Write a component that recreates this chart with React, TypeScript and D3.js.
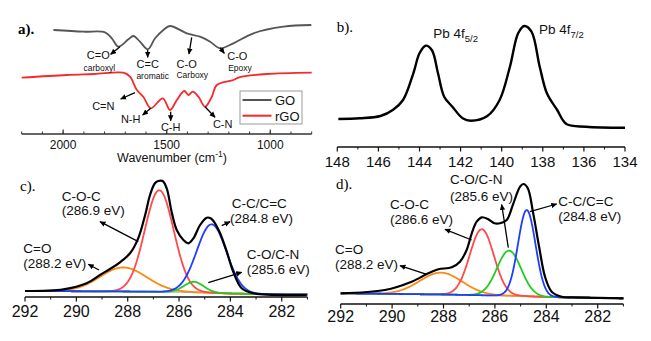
import React from "react";
import * as d3 from "d3";

// ---------- Panel a: FTIR ----------
const wnGO = [2047, 1902, 1798, 1765, 1733, 1685, 1661, 1629, 1591, 1556, 1516, 1484, 1403, 1339, 1290, 1242, 1178, 1081, 936, 802];
const transGO = [104, 102.3, 101.7, 95.7, 87.3, 94.7, 98, 92.3, 84.7, 95.7, 104, 108, 100.7, 97.3, 92.3, 85.7, 90.7, 100.7, 107.3, 109];
const wnRGO = [2200, 1983, 1850, 1709, 1677, 1644, 1613, 1577, 1519, 1484, 1451, 1415, 1395, 1374, 1347, 1315, 1282, 1258, 1178, 1150, 1017, 800];
const transRGO = [56.3, 59, 60, 61.3, 57.3, 44, 37.3, 25.7, 35.7, 24, 34, 43, 39, 42.3, 37.3, 27.3, 37.3, 49, 54, 56.7, 60, 61.3];
const ftirMajor = [2000, 1500, 1000];
const ftirMinor = d3.range(2200, 799, -100);

// ---------- Panel b: Pb 4f ----------
const beB = [147.95, 146.9, 145.9, 145.3, 144.8, 144.3, 144.0, 143.7, 143.4, 143.1, 142.8, 142.4, 141.9, 141.5, 140.7, 140.1, 139.6, 139.2, 138.9, 138.55, 138.15, 137.8, 137.3, 136.85, 135.9, 134];
const intB = [28, 28.7, 31, 37, 47, 73.7, 93.7, 101.3, 97, 73.7, 50.3, 40.3, 28.7, 26.3, 31, 47, 80.3, 113.7, 121, 115.3, 80.3, 53.7, 37, 23, 20.3, 19.3];
const pbMajor = [148, 146, 144, 142, 140, 138, 136, 134];
const pbMinor = d3.range(147, 134, -2);

// ---------- Panel c: C1s (GO) ----------
const beC = [292, 290.5, 289.6, 289.08, 288.69, 288.3, 287.91, 287.59, 287.32, 287.13, 286.94, 286.81, 286.64, 286.48, 286.29, 286.09, 285.83, 285.64, 285.44, 285.18, 284.92, 284.77, 284.6, 284.4, 284.14, 283.89, 283.56, 283.11, 281.03];
const envC = [6, 7.7, 13.7, 22, 28, 34.7, 43.7, 58.7, 82, 102, 113.7, 116, 116, 108.7, 85.3, 67, 57, 53.7, 58.7, 72, 79.3, 78.7, 73.7, 63.7, 45.3, 25.3, 8.7, 3.7, 2];
const bgBe = [292, 288, 286, 285, 284, 283, 281];
const bgC = [6, 5.5, 5, 4.4, 3.5, 3, 2.5];
const centerC = [288.17, 286.77, 285.42, 284.73];
const heightC = [24, 101.5, 10.5, 68.5];
const sigmaC = [0.91, 0.565, 0.38, 0.58];

// ---------- Panel d: C1s (rGO) ----------
const beD = [292, 290.28, 289.24, 288.59, 288.2, 287.68, 287.36, 287.1, 286.9, 286.71, 286.51, 286.26, 286.02, 285.8, 285.54, 285.28, 285.02, 284.89, 284.72, 284.51, 284.28, 284.05, 283.79, 283.4, 282.88, 281];
const envD = [10.7, 14, 22.3, 30.7, 34.7, 36.7, 42.3, 54, 70.7, 82.3, 86.7, 84.7, 80.7, 80.7, 84, 100.7, 117.3, 120, 115.7, 90.7, 57.3, 27.3, 12.3, 7.3, 6.7, 5.7];
const bgD = [10.7, 9.5, 8.5, 8, 7, 6.5, 5.7];
const centerD = [288.1, 286.51, 285.45, 284.76];
const heightD = [21.8, 66, 45.1, 86.2];
const sigmaD = [0.83, 0.47, 0.47, 0.34];

const xpsMajor = [292, 290, 288, 286, 284, 282];
const xpsMinor = [291, 289, 287, 285, 283, 281];

const compColors = ["#ff8a12", "#ff4a4a", "#22cc22", "#1f3cff"];

const SANS = '"Liberation Sans", Arial, Helvetica, sans-serif';
const SERIF = '"Liberation Serif", "Times New Roman", serif';

type Scale = d3.ScaleLinear<number, number>;

function pathOf(xs: number[], ys: number[], sx: Scale, sy: Scale) {
  const g = d3
    .line<number>()
    .x((_, i) => sx(xs[i]))
    .y((_, i) => sy(ys[i]))
    .curve(d3.curveCatmullRom.alpha(0.5));
  return g(xs) || "";
}

function Axis({ sx, y, major, minor, dir, labelDy, fontSize, x0, x1, color }: any) {
  const s = dir === "up" ? -1 : 1;
  return (
    <g>
      <line x1={x0} x2={x1} y1={y} y2={y} stroke={color} strokeWidth={1.3} />
      {minor.map((v: number) => (
        <line key={"m" + v} x1={sx(v)} x2={sx(v)} y1={y} y2={y + s * 2.5} stroke={color} strokeWidth={1} />
      ))}
      {major.map((v: number) => (
        <line key={"M" + v} x1={sx(v)} x2={sx(v)} y1={y} y2={y + s * 4.5} stroke={color} strokeWidth={1.2} />
      ))}
      {major.map((v: number) => (
        <text key={"t" + v} x={sx(v)} y={y + labelDy} textAnchor="middle" fontFamily={SANS} fontSize={fontSize} fill="#111">
          {v}
        </text>
      ))}
    </g>
  );
}

function Arrow({ a }: { a: number[] }) {
  return <line x1={a[0]} y1={a[1]} x2={a[2]} y2={a[3]} stroke="#000" strokeWidth={1.3} markerEnd="url(#ah)" />;
}

function XpsPanel({ sx, sy, be, env, bg, centers, heights, sigmas }: any) {
  const bgScale = d3.scaleLinear().domain(bgBe).range(bg);
  const grid = d3.range(292, 280.99, -0.025);
  const bgVals = grid.map((e) => bgScale(e));
  return (
    <g fill="none">
      <path d={pathOf(grid, bgVals, sx, sy)} stroke="#a9b8a9" strokeWidth={1.6} />
      {centers.map((c: number, k: number) => {
        const ys = grid.map((e, i) => bgVals[i] + heights[k] * Math.exp(-((e - c) ** 2) / (2 * sigmas[k] ** 2)));
        return <path key={k} d={pathOf(grid, ys, sx, sy)} stroke={compColors[k]} strokeWidth={1.8} />;
      })}
      <path d={pathOf(be, env, sx, sy)} stroke="#000" strokeWidth={2.2} />
    </g>
  );
}

export default function App() {
  const xA = d3.scaleLinear().domain([2200, 800]).range([21.7, 311.7]);
  const yA = d3.scaleLinear().domain([0, 120]).range([134, 14]);
  const xB = d3.scaleLinear().domain([148, 134]).range([337.3, 625]);
  const yB = d3.scaleLinear().domain([0, 130]).range([147, 17]);
  const xC = d3.scaleLinear().domain([292, 281]).range([25, 307.4]);
  const yC = d3.scaleLinear().domain([0, 120]).range([297, 177]);
  const xD = d3.scaleLinear().domain([292, 281]).range([340.7, 623.4]);
  const yD = d3.scaleLinear().domain([0, 120]).range([304, 184]);

  const labelsA: [string, number, number, number][] = [
    ["C=O", 98.3, 59, 11],
    ["carboxyl", 99.3, 71, 8.5],
    ["C=C", 147.7, 67.5, 11],
    ["aromatic", 152.7, 79, 8.5],
    ["C-O", 186.7, 67.5, 11],
    ["Carboxy", 192.3, 78, 8.5],
    ["C-O", 237.3, 60, 11],
    ["Epoxy", 240, 70.5, 8.5],
    ["C=N", 103.3, 110, 11],
    ["N-H", 130.7, 123, 11],
    ["C-H", 170.7, 130.5, 11],
    ["C-N", 222.7, 128, 11],
  ];
  const arrowsA = [
    [120, 46.7, 110.7, 54.3],
    [147.7, 50, 147.7, 57.3],
    [191.7, 37.3, 189, 54],
    [220, 47.7, 224.3, 53.3],
    [135, 92.7, 120.7, 99],
    [150.7, 108.3, 142.7, 115],
    [170.7, 111.7, 170.7, 120.7],
    [205, 106.7, 215, 117.3],
  ];
  const labelsC: [string, number, number][] = [
    ["C-O-C", 61.7, 201],
    ["(286.9 eV)", 61.7, 214.5],
    ["C=O", 23.3, 252.7],
    ["(288.2 eV)", 23.3, 267.7],
    ["C-C/C=C", 231.7, 208.3],
    ["(284.8 eV)", 230, 222.7],
    ["C-O/C-N", 246.7, 259.3],
    ["(285.6 eV)", 246.7, 274],
  ];
  const arrowsC = [
    [138.3, 241.7, 100, 221.7],
    [99, 270, 88.3, 264.3],
    [221.7, 225.7, 230, 221.7],
    [208.3, 282.7, 241.7, 272.3],
  ];
  const labelsD: [string, number, number][] = [
    ["C-O/C-N", 450, 184.3],
    ["(285.6 eV)", 450, 200.5],
    ["C-O-C", 390, 209.3],
    ["(286.6 eV)", 390, 224],
    ["C=O", 335, 254.3],
    ["(288.2 eV)", 335, 269.3],
    ["C-C/C=C", 558.3, 206],
    ["(284.8 eV)", 558.3, 220.7],
  ];
  const arrowsD = [
    [471.7, 240, 445, 229.3],
    [426.7, 274.3, 400, 265.7],
    [508.3, 247.7, 501.7, 204.5],
    [530, 211.7, 556.7, 204],
  ];

  return (
    <svg width={651} height={341} style={{ position: "absolute", left: 0, top: 0, background: "#fff" }}>
      <defs>
        <marker id="ah" viewBox="0 0 10 10" refX="9" refY="5" markerWidth="6" markerHeight="6" markerUnits="userSpaceOnUse" orient="auto">
          <path d="M0,0.5 L10,5 L0,9.5 z" fill="#000" />
        </marker>
      </defs>
      <rect x={0} y={0} width={651} height={341} fill="#fff" />

      {/* Panel a */}
      <text x={18} y={34} fontFamily={SERIF} fontWeight="bold" fontSize={15}>a).</text>
      <path d={pathOf(wnGO, transGO, xA, yA)} fill="none" stroke="#555" strokeWidth={1.8} />
      <path d={pathOf(wnRGO, transRGO, xA, yA)} fill="none" stroke="#f52a2a" strokeWidth={1.8} />
      {labelsA.map(([t, x, y, s], i) => (
        <text key={i} x={x} y={y} textAnchor="middle" fontFamily={SANS} fontSize={s} fill="#111">{t}</text>
      ))}
      {arrowsA.map((a, i) => <Arrow key={i} a={a} />)}
      <rect x={240} y={91} width={62} height={33} fill="#fff" stroke="#9a9a9a" strokeWidth={1} />
      <line x1={242.5} x2={271.5} y1={100} y2={100} stroke="#555" strokeWidth={2} />
      <line x1={242.5} x2={271.5} y1={115.7} y2={115.7} stroke="#f52a2a" strokeWidth={2} />
      <text x={275} y={105} fontFamily={SANS} fontSize={13} fill="#111">GO</text>
      <text x={275} y={120.5} fontFamily={SANS} fontSize={13} fill="#111">rGO</text>
      <Axis sx={xA} y={134} major={ftirMajor} minor={ftirMinor} dir="up" labelDy={15} fontSize={12} x0={21.7} x1={311.7} color="#333" />
      <text x={172} y={162} textAnchor="middle" fontFamily={SANS} fontSize={12.5} fill="#111">
        Wavenumber (cm<tspan fontSize={8.5} dy={-5}>-1</tspan><tspan dy={5}>)</tspan>
      </text>

      {/* Panel b */}
      <text x={336.7} y={32.3} fontFamily={SERIF} fontSize={15}>b).</text>
      <path d={pathOf(beB, intB, xB, yB)} fill="none" stroke="#000" strokeWidth={2.4} />
      <text x={433.3} y={38} fontFamily={SANS} fontSize={13.5} fill="#111">
        Pb 4f<tspan fontSize={9.5} dy={3.5}>5/2</tspan>
      </text>
      <text x={539} y={34.3} fontFamily={SANS} fontSize={13.5} fill="#111">
        Pb 4f<tspan fontSize={9.5} dy={3.5}>7/2</tspan>
      </text>
      <Axis sx={xB} y={147} major={pbMajor} minor={pbMinor} dir="down" labelDy={20} fontSize={15} x0={337.3} x1={625} color="#111" />

      {/* Panel c */}
      <text x={20} y={191} fontFamily={SERIF} fontSize={15}>c).</text>
      <XpsPanel sx={xC} sy={yC} be={beC} env={envC} bg={bgC} centers={centerC} heights={heightC} sigmas={sigmaC} />
      {labelsC.map(([t, x, y], i) => (
        <text key={i} x={x} y={y} fontFamily={SANS} fontSize={13.5} fill="#111">{t}</text>
      ))}
      {arrowsC.map((a, i) => <Arrow key={i} a={a} />)}
      <Axis sx={xC} y={297} major={xpsMajor} minor={xpsMinor} dir="down" labelDy={19.7} fontSize={16} x0={25} x1={307.4} color="#111" />

      {/* Panel d */}
      <text x={336} y={189} fontFamily={SERIF} fontSize={15}>d).</text>
      <XpsPanel sx={xD} sy={yD} be={beD} env={envD} bg={bgD} centers={centerD} heights={heightD} sigmas={sigmaD} />
      {labelsD.map(([t, x, y], i) => (
        <text key={i} x={x} y={y} fontFamily={SANS} fontSize={13.5} fill="#111">{t}</text>
      ))}
      {arrowsD.map((a, i) => <Arrow key={i} a={a} />)}
      <Axis sx={xD} y={304} major={xpsMajor} minor={xpsMinor} dir="down" labelDy={17.7} fontSize={16} x0={340.7} x1={623.4} color="#111" />
    </svg>
  );
}
